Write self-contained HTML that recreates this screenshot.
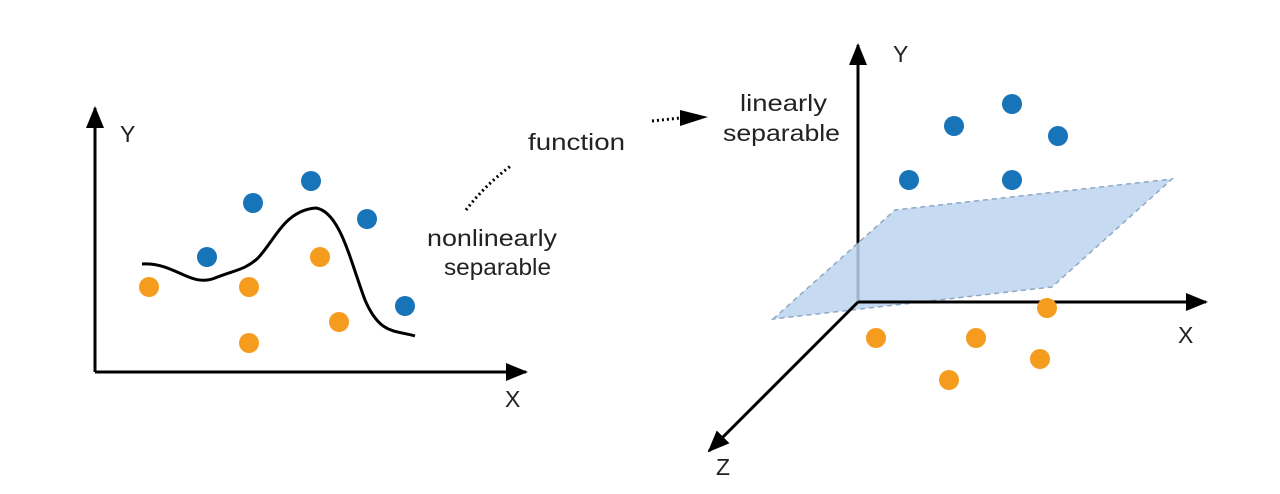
<!DOCTYPE html>
<html><head><style>body{margin:0;background:#fff}</style></head><body>
<svg width="1280" height="489" viewBox="0 0 1280 489" xmlns="http://www.w3.org/2000/svg" font-family="Liberation Sans, sans-serif" fill="#222">
<defs>
<marker id="b" markerWidth="22" markerHeight="18" refX="20" refY="9" orient="auto" markerUnits="userSpaceOnUse"><path d="M0,0L22,9L0,18z" fill="#000"/></marker></defs>
<!-- left axes -->
<path d="M95,372V108" stroke="#000" stroke-width="3" marker-end="url(#b)"/>
<path d="M95,372H526" stroke="#000" stroke-width="3" marker-end="url(#b)"/>
<text x="120" y="142" font-size="23">Y</text>
<text x="505" y="407" font-size="23">X</text>
<path d="M142,264C175,262 190,288 215,278C235,270 245,270 258,258C275,240 285,210 316,208C340,212 350,260 365,300C380,335 395,330 415,336" fill="none" stroke="#000" stroke-width="3"/>
<g fill="#1874b8"><circle cx="253" cy="203" r="10"/><circle cx="311" cy="181" r="10"/><circle cx="367" cy="219" r="10"/><circle cx="207" cy="257" r="10"/><circle cx="405" cy="306" r="10"/></g>
<g fill="#f59c1f"><circle cx="149" cy="287" r="10"/><circle cx="249" cy="287" r="10"/><circle cx="320" cy="257" r="10"/><circle cx="339" cy="322" r="10"/><circle cx="249" cy="343" r="10"/></g>
<!-- labels -->
<text x="528" y="150" font-size="23" textLength="97" lengthAdjust="spacingAndGlyphs">function</text>
<text x="427" y="246" font-size="23" textLength="130" lengthAdjust="spacingAndGlyphs">nonlinearly</text>
<text x="444" y="275" font-size="23" textLength="107" lengthAdjust="spacingAndGlyphs">separable</text>
<path d="M466,210Q485,185 512,165" fill="none" stroke="#000" stroke-width="3" stroke-dasharray="2,3"/>
<path d="M652,121L680,118" stroke="#000" stroke-width="3" stroke-dasharray="2,3"/>
<path d="M680,110L708,117L680,126z" fill="#000"/>
<text x="740" y="111" font-size="23" textLength="87" lengthAdjust="spacingAndGlyphs">linearly</text>
<text x="723" y="141" font-size="23" textLength="117" lengthAdjust="spacingAndGlyphs">separable</text>
<!-- right 3D -->
<path d="M858,302V45" stroke="#000" stroke-width="3" marker-end="url(#b)"/>
<path d="M773,319L895,210L1172,179L1052,287z" fill="#bcd5ee" fill-opacity="0.85" stroke="#8fa8c4" stroke-width="1.5" stroke-dasharray="5,4"/>
<path d="M858,302H1206" stroke="#000" stroke-width="3" marker-end="url(#b)"/>
<path d="M858,302L709,451" stroke="#000" stroke-width="3" marker-end="url(#b)"/>
<text x="893" y="62" font-size="23">Y</text>
<text x="1178" y="343" font-size="23">X</text>
<text x="716" y="475" font-size="23">Z</text>
<g fill="#1874b8"><circle cx="1012" cy="104" r="10"/><circle cx="954" cy="126" r="10"/><circle cx="1058" cy="136" r="10"/><circle cx="909" cy="180" r="10"/><circle cx="1012" cy="180" r="10"/></g>
<g fill="#f59c1f"><circle cx="876" cy="338" r="10"/><circle cx="976" cy="338" r="10"/><circle cx="1047" cy="308" r="10"/><circle cx="1040" cy="359" r="10"/><circle cx="949" cy="380" r="10"/></g>
</svg>
</body></html>
